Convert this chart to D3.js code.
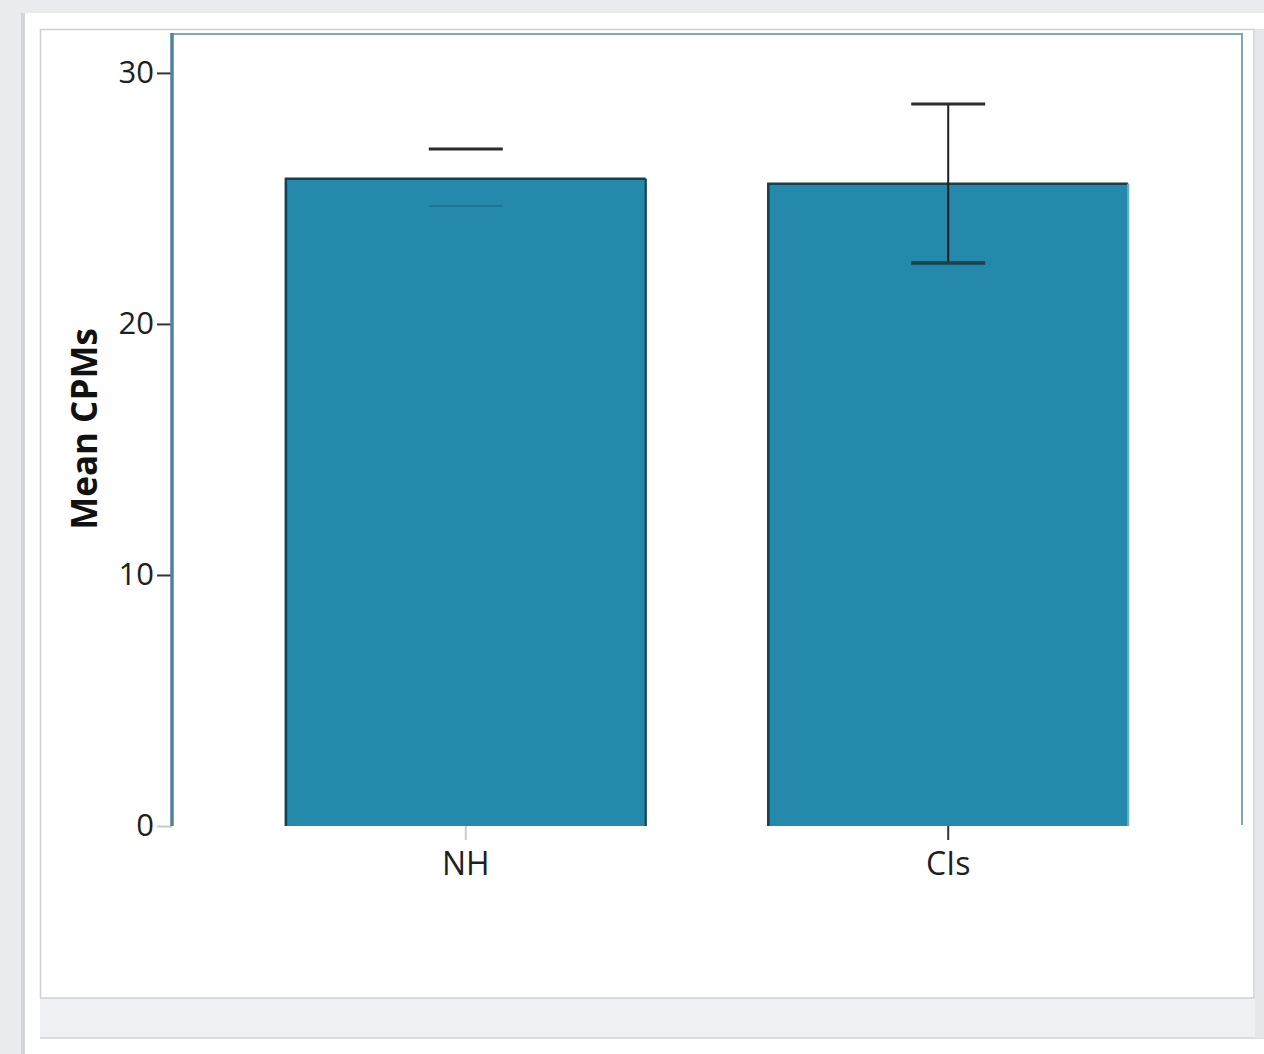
<!DOCTYPE html>
<html>
<head>
<meta charset="utf-8">
<script src="https://cdn.jsdelivr.net/npm/d3@7"></script>
<style>
  html, body { margin: 0; padding: 0; background: #e9ebee; }
  svg { display: block; }
</style>
</head>
<body>
<svg id="chart" width="1264" height="1054"></svg>
<script>
// Mean CPMs per group with error bar bounds
const categories = ["NH", "CIs"];
const meanValues = [25.78, 25.58];
const errLow = [24.70, 22.43];
const errHigh = [26.97, 28.76];
const yTicks = [0, 10, 20, 30];

(function () {
const svg = d3.select("#chart");
const W = 1264, H = 1054;

// window chrome around the chart panel
svg.append("rect").attr("x", 0).attr("y", 0).attr("width", W).attr("height", H).attr("fill", "#e9ebee");
svg.append("rect").attr("x", 25).attr("y", 13).attr("width", W - 25).attr("height", H - 13).attr("fill", "#ffffff");
svg.append("rect").attr("x", 21).attr("y", 13).attr("width", 4).attr("height", H - 13).attr("fill", "#d3d5d8");
svg.append("rect").attr("x", 40).attr("y", 998).attr("width", W - 40).attr("height", 40).attr("fill", "#eff1f4");
svg.append("line").attr("x1", 40).attr("x2", W).attr("y1", 1038).attr("y2", 1038).attr("stroke", "#d2d4d7").attr("stroke-width", 1.5);
svg.append("rect").attr("x", 1255).attr("y", 29).attr("width", W - 1255).attr("height", 1009).attr("fill", "#e5e7ea");
svg.append("rect").attr("x", 40.5).attr("y", 29.5).attr("width", 1213.5).attr("height", 968.5)
  .attr("fill", "#ffffff").attr("stroke", "#cfd0d2").attr("stroke-width", 1.5);

// plot area
const pLeft = 172, pRight = 1242, pTop = 34, pBottom = 826;

const x = d3.scaleBand()
  .domain(categories)
  .range([pLeft, pRight])
  .paddingInner(0.25)
  .paddingOuter(0.234);

const y = d3.scaleLinear()
  .domain([0, 31.55])
  .range([pBottom, pTop]);

// frame: top and right edges
svg.append("path")
  .attr("d", `M${pLeft},${pTop}H${pRight}V${pBottom - 1}`)
  .attr("fill", "none")
  .attr("stroke", "#7ea8ba")
  .attr("stroke-width", 2);

// bars
const bars = svg.append("g");
categories.forEach((c, i) => {
  const bx = x(c), bw = x.bandwidth(), by = y(meanValues[i]);
  bars.append("rect")
    .attr("x", bx).attr("y", by)
    .attr("width", bw).attr("height", y(0) - by)
    .attr("fill", "#2589ab");
  bars.append("path")
    .attr("d", `M${bx + 1},${y(0)}V${by}H${bx + bw - 1}`)
    .attr("fill", "none")
    .attr("stroke", "#1c3d4b")
    .attr("stroke-width", 2.5);
  bars.append("line")
    .attr("x1", bx + bw - 1).attr("x2", bx + bw - 1)
    .attr("y1", by).attr("y2", y(0))
    .attr("stroke", i === 0 ? "#1c3d4b" : "#5fb3cf")
    .attr("stroke-width", 2);
});

// error bars
const capHalf = 37;
const err = svg.append("g");
categories.forEach((c, i) => {
  const cx = x(c) + x.bandwidth() / 2;
  if (i === 1) {
    err.append("line")
      .attr("x1", cx).attr("x2", cx)
      .attr("y1", y(errHigh[i])).attr("y2", y(errLow[i]))
      .attr("stroke", "#1e1e1e").attr("stroke-width", 2);
  }
  err.append("line")
    .attr("x1", cx - capHalf).attr("x2", cx + capHalf)
    .attr("y1", y(errHigh[i])).attr("y2", y(errHigh[i]))
    .attr("stroke", "#2b2b2b").attr("stroke-width", 3);
  err.append("line")
    .attr("x1", cx - capHalf).attr("x2", cx + capHalf)
    .attr("y1", y(errLow[i])).attr("y2", y(errLow[i]))
    .attr("stroke", i === 0 ? "#1d6f8d" : "#1b3f4d")
    .attr("stroke-width", i === 0 ? 1.5 : 3.5);
});

// y axis
const yAxis = svg.append("g")
  .attr("transform", `translate(${pLeft},0)`)
  .call(d3.axisLeft(y).tickValues(yTicks).tickSize(15).tickPadding(3).tickFormat(d3.format("d")));
yAxis.select(".domain").remove();
yAxis.selectAll(".tick line")
  .attr("stroke", d => d === 0 ? "#c9c9c9" : "#333333")
  .attr("stroke-width", 2);
yAxis.selectAll(".tick text")
  .attr("font-family", "'Open Sans', sans-serif")
  .attr("font-size", 31)
  .attr("fill", "#1f1f1f");
svg.append("line")
  .attr("x1", pLeft).attr("x2", pLeft)
  .attr("y1", pTop - 1).attr("y2", pBottom)
  .attr("stroke", "#4f8498").attr("stroke-width", 3.5);

// x axis
const xAxis = svg.append("g")
  .attr("transform", `translate(0,${pBottom})`)
  .call(d3.axisBottom(x).tickSize(14).tickPadding(12));
xAxis.select(".domain").remove();
xAxis.selectAll(".tick line")
  .attr("stroke", (d, i) => i === 0 ? "#c9c9c9" : "#333333")
  .attr("stroke-width", 2);
xAxis.selectAll(".tick text")
  .attr("font-family", "'Open Sans', sans-serif")
  .attr("font-size", 32)
  .attr("fill", "#1f1f1f");

// y axis title
svg.append("text")
  .attr("transform", "translate(97,429) rotate(-90)")
  .attr("text-anchor", "middle")
  .attr("font-family", "'Open Sans', sans-serif")
  .attr("font-weight", "bold")
  .attr("font-size", 35)
  .attr("fill", "#111111")
  .text("Mean CPMs");
})();
</script>
</body>
</html>
